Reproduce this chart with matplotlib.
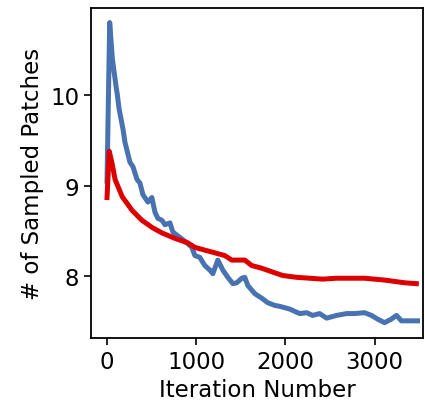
import matplotlib
matplotlib.use("Agg")
import matplotlib.pyplot as plt

# Blue series (iteration, value)
blue_x = [0, 30, 60, 105, 115, 135, 180, 201, 257, 291, 336, 369, 403, 459, 503, 537, 570,
          615, 649, 705, 738, 817, 895, 951, 985, 1040, 1096, 1152, 1186, 1242, 1298, 1354,
          1410, 1454, 1510, 1544, 1578, 1656, 1734, 1801, 1880, 1935, 2047, 2159, 2237, 2304,
          2383, 2461, 2573, 2685, 2774, 2886, 2964, 3031, 3110, 3188, 3244, 3300, 3367, 3445,
          3480]
blue_y = [9.05, 10.8, 10.4, 10.07, 10.01, 9.85, 9.62, 9.48, 9.26, 9.21, 9.07, 9.03, 8.90,
          8.82, 8.87, 8.71, 8.64, 8.62, 8.57, 8.59, 8.49, 8.43, 8.37, 8.32, 8.23, 8.21, 8.12,
          8.07, 8.03, 8.18, 8.07, 7.99, 7.92, 7.93, 7.98, 7.99, 7.90, 7.81, 7.76, 7.71, 7.68,
          7.67, 7.64, 7.59, 7.60, 7.57, 7.59, 7.54, 7.57, 7.59, 7.59, 7.60, 7.57, 7.53, 7.49,
          7.53, 7.57, 7.51, 7.51, 7.51, 7.51]

# Red series
red_x = [0, 25, 60, 90, 170, 280, 390, 505, 615, 760, 905, 985, 1096, 1208, 1320, 1398,
         1465, 1544, 1622, 1734, 1880, 1969, 2125, 2271, 2416, 2573, 2685, 2886, 3110, 3333,
         3467]
red_y = [8.87, 9.38, 9.23, 9.07, 8.88, 8.73, 8.62, 8.54, 8.48, 8.42, 8.37, 8.32, 8.29, 8.26,
         8.23, 8.18, 8.18, 8.18, 8.12, 8.09, 8.04, 8.01, 7.99, 7.98, 7.97, 7.98, 7.98, 7.98,
         7.96, 7.93, 7.92]

x_ticks = [0, 1000, 2000, 3000]
y_ticks = [8, 9, 10]

fig = plt.figure(figsize=(4.25, 4.1), dpi=100)
ax = fig.add_axes([0.214, 0.173, 0.781, 0.805])
ax.plot(blue_x, blue_y, color="#4872b0", lw=3.6, solid_joinstyle="round")
ax.plot(red_x, red_y, color="#dc0000", lw=3.6, solid_joinstyle="round")
ax.set_xlim(-180, 3540)
ax.set_ylim(7.32, 10.96)
ax.set_xticks(x_ticks)
ax.set_yticks(y_ticks)
ax.tick_params(labelsize=16.5, length=5, width=1.2)
for s in ax.spines.values():
    s.set_linewidth(1.3)
ax.set_xlabel("Iteration Number", fontsize=16.5)
ax.set_ylabel("# of Sampled Patches", fontsize=16.5)
fig.savefig("out.png", dpi=100)
